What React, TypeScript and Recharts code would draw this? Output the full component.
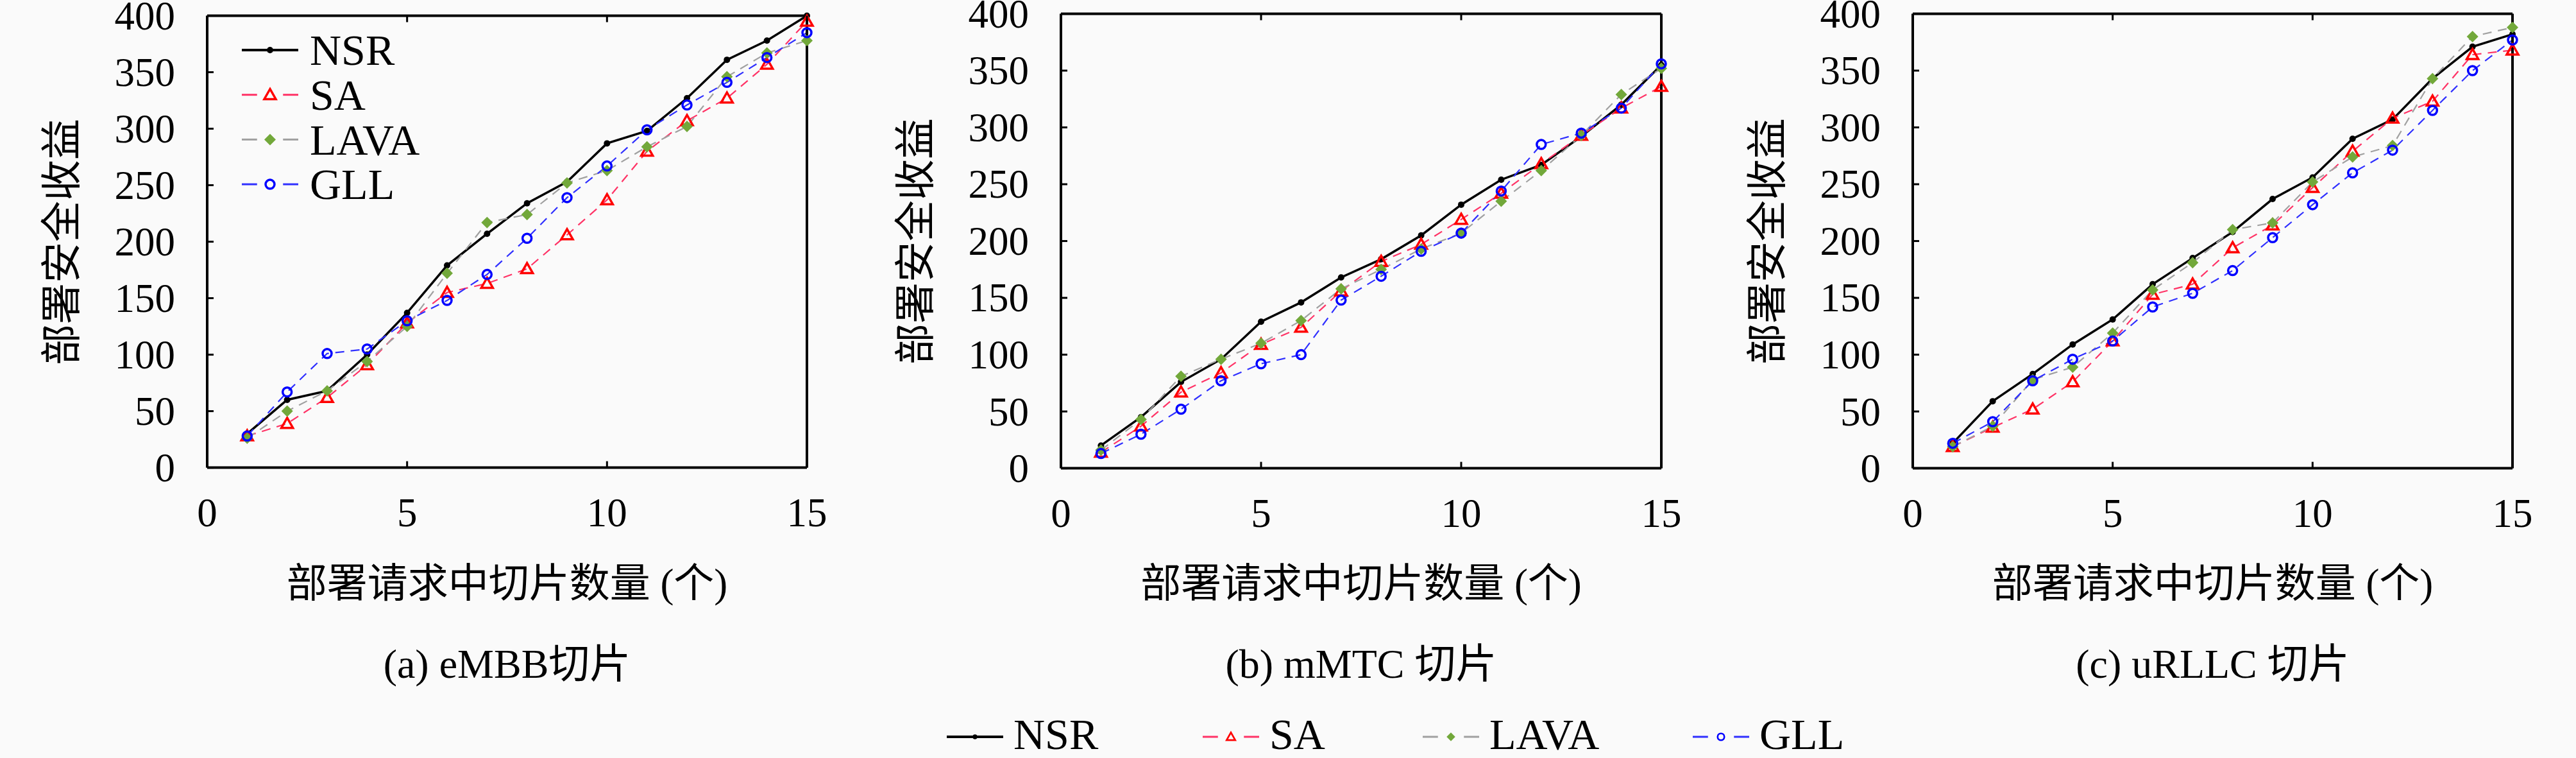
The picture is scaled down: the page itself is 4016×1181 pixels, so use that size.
import React from 'react'
import { LineChart, Line, XAxis, YAxis, Legend } from 'recharts'

// slice count in one deployment request
const counts = [1, 2, 3, 4, 5, 6, 7, 8, 9, 10, 11, 12, 13, 14, 15]
const xTicks = [0, 5, 10, 15]
const yTicks = [0, 50, 100, 150, 200, 250, 300, 350, 400]

// (a) eMBB
const nsrA = [30, 60, 68, 100, 137, 179, 207, 234, 253, 287, 298, 327, 361, 378, 400]
const saA = [28, 39, 62, 91, 128, 155, 163, 176, 206, 237, 280, 307, 327, 357, 395]
const lavaA = [26, 50, 68, 94, 125, 172, 217, 224, 252, 263, 284, 302, 346, 367, 378]
const gllA = [28, 67, 101, 105, 130, 148, 171, 203, 239, 267, 299, 321, 341, 363, 385]

// (b) mMTC
const nsrB = [20, 45, 76, 96, 129, 146, 168, 184, 205, 232, 254, 267, 292, 320, 355]
const saB = [14, 37, 67, 84, 109, 124, 156, 182, 197, 219, 242, 268, 293, 317, 336]
const lavaB = [16, 43, 81, 96, 110, 130, 158, 175, 193, 207, 235, 262, 293, 329, 352]
const gllB = [13, 30, 52, 77, 92, 100, 148, 169, 191, 207, 244, 285, 295, 317, 356]

// (c) uRLLC
const nsrC = [22, 59, 83, 109, 131, 162, 185, 208, 237, 256, 290, 307, 343, 371, 382]
const saC = [19, 36, 52, 76, 112, 153, 162, 194, 214, 247, 279, 308, 323, 364, 368]
const lavaC = [19, 37, 78, 89, 119, 157, 181, 210, 216, 252, 274, 284, 343, 380, 388]
const gllC = [22, 41, 77, 96, 112, 142, 154, 174, 203, 232, 260, 280, 315, 350, 377]

const SERIF = "'Liberation Serif', 'Noto Sans CJK SC', serif"

const series = [
  { key: 'nsr', name: 'NSR', stroke: '#000000', width: 3.5, dash: undefined, marker: 'dot' },
  { key: 'sa', name: 'SA', stroke: '#ff3366', width: 2.2, dash: '14 10', marker: 'tri' },
  { key: 'lava', name: 'LAVA', stroke: '#a0a0a0', width: 2.2, dash: '14 10', marker: 'diamond' },
  { key: 'gll', name: 'GLL', stroke: '#2f2fff', width: 2.2, dash: '14 10', marker: 'circle' },
]

function rowsOf(nsr: number[], sa: number[], lava: number[], gll: number[]) {
  return counts.map((n, i) => ({ n, nsr: nsr[i], sa: sa[i], lava: lava[i], gll: gll[i] }))
}

const panels = [
  { rows: rowsOf(nsrA, saA, lavaA, gllA), left: 323, right: 1258, top: 24.5, bottom: 728.6, caption: '(a) eMBB切片', legend: true },
  { rows: rowsOf(nsrB, saB, lavaB, gllB), left: 1654, right: 2590, top: 21.5, bottom: 729.6, caption: '(b) mMTC 切片', legend: false },
  { rows: rowsOf(nsrC, saC, lavaC, gllC), left: 2982, right: 3917, top: 21.5, bottom: 729.6, caption: '(c) uRLLC 切片', legend: false },
]

function Marker({ kind, cx, cy, s = 1 }: { kind: string; cx: number; cy: number; s?: number }) {
  if (kind === 'dot') return <circle cx={cx} cy={cy} r={5 * s} fill="#000" />
  if (kind === 'tri') {
    const h = 9 * s
    return (
      <polygon
        points={`${cx},${cy - h} ${cx + h},${cy + h * 0.75} ${cx - h},${cy + h * 0.75}`}
        fill="none"
        stroke="#ff0000"
        strokeWidth={3.5 * s}
      />
    )
  }
  if (kind === 'diamond') {
    const h = 9 * s
    return <polygon points={`${cx},${cy - h} ${cx + h},${cy} ${cx},${cy + h} ${cx - h},${cy}`} fill="#72a83a" />
  }
  return <circle cx={cx} cy={cy} r={7 * s} fill="none" stroke="#0000ff" strokeWidth={3.5 * s} />
}

const dotFor = (kind: string) => (p: any) => {
  if (p.cx == null || p.cy == null) return <g key={`e-${p.index}`} />
  return (
    <g key={`${kind}-${p.index}`}>
      <Marker kind={kind} cx={p.cx} cy={p.cy} />
    </g>
  )
}

// inward tick marks + labels
const BottomTick = (p: any) => {
  const base = p.y - 47
  return (
    <g>
      <line x1={p.x} x2={p.x} y1={base} y2={base - 10} stroke="#000" strokeWidth={3} />
      <text x={p.x} y={base + 91} textAnchor="middle" fontFamily={SERIF} fontSize={63} fill="#000">
        {p.payload.value}
      </text>
    </g>
  )
}
const TopTick = (p: any) => <line x1={p.x} x2={p.x} y1={p.y} y2={p.y + 10} stroke="#000" strokeWidth={3} />
const LeftTick = (p: any) => (
  <g>
    <line x1={p.x + 50} x2={p.x + 60} y1={p.y} y2={p.y} stroke="#000" strokeWidth={3} />
    <text x={p.x} y={p.y} dy="0.34em" textAnchor="end" fontFamily={SERIF} fontSize={63} fill="#000">
      {p.payload.value}
    </text>
  </g>
)
const RightTick = (p: any) => <line x1={p.x} x2={p.x - 10} y1={p.y} y2={p.y} stroke="#000" strokeWidth={3} />

function LegendIcon({ s, x, y, len, scale }: { s: any; x: number; y: number; len: number; scale: number }) {
  const mid = x + len / 2
  return (
    <g>
      {s.dash ? (
        <>
          <line x1={x} x2={x + len * 0.27} y1={y} y2={y} stroke={s.stroke} strokeWidth={3} />
          <line x1={x + len * 0.73} x2={x + len} y1={y} y2={y} stroke={s.stroke} strokeWidth={3} />
        </>
      ) : (
        <line x1={x} x2={x + len} y1={y} y2={y} stroke={s.stroke} strokeWidth={4} />
      )}
      <Marker kind={s.marker} cx={mid} cy={y} s={scale} />
    </g>
  )
}

function InsetLegend() {
  return (
    <svg width={380} height={330} style={{ display: 'block' }}>
      {series.map((s, i) => (
        <g key={s.key}>
          <LegendIcon s={s} x={2} y={48 + i * 69.7} len={88} scale={1} />
          <text x={108} y={48 + i * 69.7} dy="0.34em" fontFamily={SERIF} fontSize={68} fill="#000">
            {s.name}
          </text>
        </g>
      ))}
    </svg>
  )
}

const bottomLegendX = [1476, 1875, 2218, 2639]

function BottomLegend() {
  return (
    <svg width={4016} height={81} style={{ position: 'absolute', left: 0, top: 1100 }}>
      {series.map((s, i) => (
        <g key={s.key}>
          <LegendIcon s={s} x={bottomLegendX[i]} y={48} len={88} scale={0.75} />
          <text x={bottomLegendX[i] + 104} y={67} fontFamily={SERIF} fontSize={68} fill="#000">
            {s.name}
          </text>
        </g>
      ))}
    </svg>
  )
}

const H = 900

function Panel({ p }: { p: (typeof panels)[number] }) {
  const chartLeft = p.left - 300
  const W = p.right - p.left + 340
  const plotMid = (p.left + p.right) / 2
  return (
    <>
      <div style={{ position: 'absolute', left: chartLeft, top: 0 }}>
        <LineChart
          width={W}
          height={H}
          data={p.rows}
          margin={{ top: p.top - 10, right: 30, bottom: H - p.bottom - 100, left: 0 }}
        >
          <XAxis
            xAxisId="b"
            dataKey="n"
            type="number"
            domain={[0, 15]}
            ticks={xTicks}
            interval={0}
            height={100}
            tickSize={0}
            tickMargin={47}
            tickLine={false}
            tick={BottomTick}
            axisLine={{ stroke: '#000', strokeWidth: 4 }}
          />
          <XAxis
            xAxisId="t"
            orientation="top"
            dataKey="n"
            type="number"
            domain={[0, 15]}
            ticks={xTicks}
            interval={0}
            height={10}
            tickSize={0}
            tickMargin={0}
            tickLine={false}
            tick={TopTick}
            axisLine={{ stroke: '#000', strokeWidth: 4 }}
          />
          <YAxis
            yAxisId="l"
            type="number"
            domain={[0, 400]}
            ticks={yTicks}
            interval={0}
            width={300}
            tickSize={0}
            tickMargin={50}
            tickLine={false}
            tick={LeftTick}
            axisLine={{ stroke: '#000', strokeWidth: 4 }}
          />
          <YAxis
            yAxisId="r"
            orientation="right"
            type="number"
            domain={[0, 400]}
            ticks={yTicks}
            interval={0}
            width={10}
            tickSize={0}
            tickMargin={0}
            tickLine={false}
            tick={RightTick}
            axisLine={{ stroke: '#000', strokeWidth: 4 }}
          />
          {series.map((s) => (
            <Line
              key={s.key}
              xAxisId="b"
              yAxisId="l"
              type="linear"
              dataKey={s.key}
              name={s.name}
              stroke={s.stroke}
              strokeWidth={s.width}
              strokeDasharray={s.dash}
              dot={dotFor(s.marker)}
              activeDot={false}
              isAnimationActive={false}
            />
          ))}
          {p.legend && (
            <Legend
              layout="vertical"
              align="center"
              verticalAlign="middle"
              wrapperStyle={{ left: 375 - chartLeft, top: 30, width: 380, height: 330 }}
              content={() => <InsetLegend />}
            />
          )}
        </LineChart>
      </div>
      <div
        style={{
          position: 'absolute',
          left: p.left - 226,
          top: (p.top + p.bottom) / 2,
          transform: 'translate(-50%, -50%) rotate(-90deg)',
          fontFamily: SERIF,
          fontSize: 64,
          lineHeight: 1,
          whiteSpace: 'nowrap',
        }}
      >
        部署安全收益
      </div>
      <div
        style={{
          position: 'absolute',
          left: plotMid,
          top: 909,
          transform: 'translate(-50%, -50%)',
          fontFamily: SERIF,
          fontSize: 63,
          lineHeight: 1,
          whiteSpace: 'nowrap',
        }}
      >
        部署请求中切片数量 (个)
      </div>
      <div
        style={{
          position: 'absolute',
          left: plotMid,
          top: 1035,
          transform: 'translate(-50%, -50%)',
          fontFamily: SERIF,
          fontSize: 64,
          lineHeight: 1,
          whiteSpace: 'nowrap',
        }}
      >
        {p.caption}
      </div>
    </>
  )
}

export default function App() {
  return (
    <div
      style={{
        position: 'absolute',
        left: 0,
        top: 0,
        width: 4016,
        height: 1181,
        background: '#fafafa',
        overflow: 'hidden',
        color: '#000',
      }}
    >
      {panels.map((p, i) => (
        <Panel key={i} p={p} />
      ))}
      <BottomLegend />
    </div>
  )
}
